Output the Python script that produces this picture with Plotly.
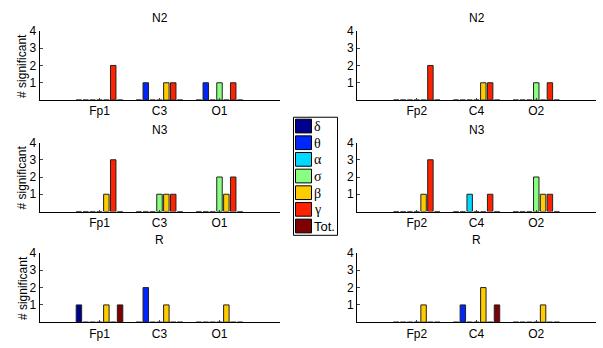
import plotly.graph_objects as go

bands = ["δ", "θ", "α", "σ", "β", "γ", "Tot."]
colors = ["#00008f", "#0026ff", "#00d8ff", "#88ff80", "#ffcc00", "#ff2200", "#7f0000"]

left_channels = ["Fp1", "C3", "O1"]
right_channels = ["Fp2", "C4", "O2"]
stages = ["N2", "N3", "R"]

# values[band] -> per channel
N2_left = {"δ": [0, 0, 0], "θ": [0, 1, 1], "α": [0, 0, 0], "σ": [0, 0, 1],
           "β": [0, 1, 0], "γ": [2, 1, 1], "Tot.": [0, 0, 0]}
N2_right = {"δ": [0, 0, 0], "θ": [0, 0, 0], "α": [0, 0, 0], "σ": [0, 0, 1],
            "β": [0, 1, 0], "γ": [2, 1, 1], "Tot.": [0, 0, 0]}
N3_left = {"δ": [0, 0, 0], "θ": [0, 0, 0], "α": [0, 0, 0], "σ": [0, 1, 2],
           "β": [1, 1, 1], "γ": [3, 1, 2], "Tot.": [0, 0, 0]}
N3_right = {"δ": [0, 0, 0], "θ": [0, 0, 0], "α": [0, 1, 0], "σ": [0, 0, 2],
            "β": [1, 0, 1], "γ": [3, 1, 1], "Tot.": [0, 0, 0]}
R_left = {"δ": [1, 0, 0], "θ": [0, 2, 0], "α": [0, 0, 0], "σ": [0, 0, 0],
          "β": [1, 1, 1], "γ": [0, 0, 0], "Tot.": [1, 0, 0]}
R_right = {"δ": [0, 0, 0], "θ": [0, 1, 0], "α": [0, 0, 0], "σ": [0, 0, 0],
           "β": [1, 2, 1], "γ": [0, 0, 0], "Tot.": [0, 1, 0]}

yticks = [1, 2, 3, 4]

W, H = 603, 348
FONT = "Liberation Sans, Arial, sans-serif"
SERIF = "Liberation Serif, Times New Roman, serif"

panels = [
    (N2_left, left_channels, "N2", 0), (N2_right, right_channels, "N2", 1),
    (N3_left, left_channels, "N3", 0), (N3_right, right_channels, "N3", 1),
    (R_left, left_channels, "R", 0), (R_right, right_channels, "R", 1),
]

xdom = [[39.5 / W, 279.5 / W], [357 / W, 596 / W]]
rows_px = [(24.3, 95), (138.3, 208.7), (251, 321.7)]  # (top, baseline)

fig = go.Figure()
layout = {}
annotations = []
shapes = []
for i, (data, chans, title, col) in enumerate(panels):
    row = i // 2
    n = i + 1
    xa = "x" if n == 1 else f"x{n}"
    ya = "y" if n == 1 else f"y{n}"
    top, base = rows_px[row]
    ydom = [1 - base / H, 1 - top / H]
    for b, c in zip(bands, colors):
        fig.add_trace(go.Bar(
            x=[1, 2, 3], y=data[b], name=b, marker_color=c,
            marker_line=dict(color="#222222", width=1),
            xaxis=xa, yaxis=ya, legendgroup=b, showlegend=False,
        ))
    layout[f"xaxis{n if n > 1 else ''}"] = dict(
        domain=xdom[col], anchor=ya, range=[0, 4], tickmode="array",
        tickvals=[1, 2, 3], ticktext=chans, ticks="inside", ticklen=2,
        showline=True, linecolor="black", linewidth=1, showgrid=False,
        zeroline=False, tickfont=dict(size=12, color="black", family=FONT),
    )
    layout[f"yaxis{n if n > 1 else ''}"] = dict(
        domain=ydom, anchor=xa, range=[0, 4], tickmode="array",
        tickvals=yticks, ticks="inside", ticklen=3, showline=True,
        linecolor="black", linewidth=1, showgrid=False, zeroline=False,
        tickfont=dict(size=12, color="black", family=FONT),
    )
    cx = (xdom[col][0] + xdom[col][1]) / 2
    annotations.append(dict(
        text=title, x=cx, y=1 - (top - 13) / H, xref="paper", yref="paper",
        showarrow=False, font=dict(size=12, color="black", family=FONT),
        xanchor="center", yanchor="middle",
    ))
    if col == 0:
        annotations.append(dict(
            text="# significant", x=22.5 / W, y=1 - (top + base) / 2 / H,
            xref="paper", yref="paper", showarrow=False, textangle=-90,
            font=dict(size=12, color="black", family=FONT),
            xanchor="center", yanchor="middle",
        ))

# legend box drawn in paper coordinates
LX0, LX1, LY0, LY1 = 293.5, 337.5, 112.5, 233
shapes.append(dict(type="rect", xref="paper", yref="paper",
                   x0=LX0 / W, x1=LX1 / W, y0=1 - LY1 / H, y1=1 - LY0 / H,
                   line=dict(color="black", width=1), fillcolor="white",
                   layer="above"))
for k, (b, c) in enumerate(zip(bands, colors)):
    sy0 = 114.5 + 17 * k
    sy1 = sy0 + 14
    shapes.append(dict(type="rect", xref="paper", yref="paper",
                       x0=295.5 / W, x1=311.5 / W, y0=1 - sy1 / H, y1=1 - sy0 / H,
                       line=dict(color="black", width=1), fillcolor=c,
                       layer="above"))
    annotations.append(dict(
        text=b, x=312.5 / W, y=1 - (sy0 + 7.5) / H, xref="paper", yref="paper",
        showarrow=False, xanchor="left", yanchor="middle",
        font=dict(size=14 if b != "Tot." else 13, color="black",
                  family=SERIF if b != "Tot." else FONT),
        borderpad=0,
    ))

fig.update_layout(
    **layout,
    annotations=annotations,
    shapes=shapes,
    barmode="group", bargap=0.2, bargroupgap=0.2,
    width=W, height=H, margin=dict(l=0, r=0, t=0, b=0),
    paper_bgcolor="white", plot_bgcolor="white",
    font=dict(family=FONT, color="black", size=12),
    showlegend=False,
)

post = (
    "document.documentElement.style.margin='0';"
    "document.body.style.margin='0';document.body.style.padding='0';"
    "document.body.style.overflow='hidden';"
    "var d=document.getElementsByClassName('plotly-graph-div')[0];"
    "d.style.position='fixed';d.style.top='0px';d.style.left='0px';"
)
fig.write_html("out.html", post_script=post, config={"displayModeBar": False})
